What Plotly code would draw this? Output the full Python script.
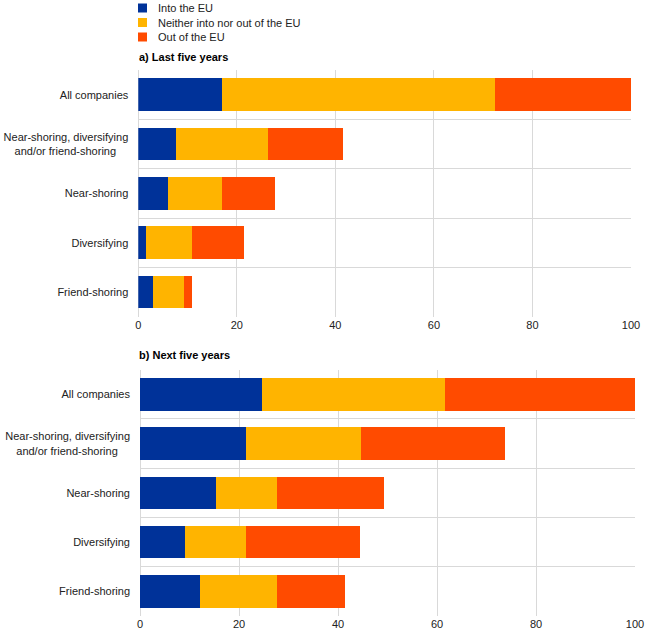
import plotly.graph_objects as go

categories = [
    "All companies",
    "Near-shoring, diversifying<br>and/or friend-shoring\u00a0\u00a0\u00a0\u00a0",
    "Near-shoring",
    "Diversifying",
    "Friend-shoring",
]
series_names = ["Into the EU", "Neither into nor out of the EU", "Out of the EU"]
colors = ["#003299", "#FFB400", "#FF4B00"]

# a) Last five years
last_into = [16.9, 7.6, 6.1, 1.5, 3.0]
last_neither = [55.5, 18.7, 10.9, 9.3, 6.3]
last_out = [27.6, 15.2, 10.7, 10.7, 1.5]

# b) Next five years
next_into = [24.6, 21.4, 15.3, 9.1, 12.2]
next_neither = [37.0, 23.2, 12.4, 12.4, 15.5]
next_out = [38.4, 29.2, 21.5, 23.0, 13.8]

x_ticks = [0, 20, 40, 60, 80, 100]
panel_titles = ["a) Last five years", "b) Next five years"]

W, H = 660, 641
FONT = "Liberation Sans, Arial, sans-serif"
TEXT = "#222222"
GRID = "#d9d9d9"

fig = go.Figure()

panels = [
    ([last_into, last_neither, last_out], "x", "y"),
    ([next_into, next_neither, next_out], "x2", "y2"),
]
for vals, xa, ya in panels:
    for name, col, v in zip(series_names, colors, vals):
        fig.add_trace(go.Bar(
            y=categories, x=v, name=name, orientation="h",
            marker=dict(color=col, line=dict(width=0)),
            xaxis=xa, yaxis=ya, showlegend=False,
            hoverinfo="x+name",
        ))

def px_x(p):
    return p / W

def px_y(p):
    return (H - p) / H

xaxis_common = dict(
    range=[0, 100], tickvals=x_ticks, showgrid=True, gridcolor=GRID, gridwidth=1,
    zeroline=True, zerolinecolor=GRID, zerolinewidth=1, showline=False,
    ticks="", tickfont=dict(family=FONT, size=11, color=TEXT), automargin=False,
    fixedrange=True,
)
yaxis_common = dict(
    type="category", categoryorder="array", categoryarray=categories,
    autorange=False, range=[len(categories) - 0.5, -0.5],
    tickson="boundaries", showgrid=True, gridcolor=GRID, gridwidth=1,
    ticks="", ticklabelstandoff=9,
    tickfont=dict(family=FONT, size=11, color=TEXT), automargin=False,
    showline=False, zeroline=False, fixedrange=True,
)

# legend (drawn as key squares + labels, stacked tightly as in the reference)
shapes = []
annotations = []
legend_rows = [8, 22.5, 37]
for name, col, yc in zip(series_names, colors, legend_rows):
    shapes.append(dict(
        type="rect", xref="paper", yref="paper",
        x0=px_x(138), x1=px_x(147), y0=px_y(yc + 4.5), y1=px_y(yc - 4.5),
        fillcolor=col, line=dict(width=0),
    ))
    annotations.append(dict(
        text=name, x=px_x(156), y=px_y(yc), xref="paper", yref="paper",
        xanchor="left", yanchor="middle", showarrow=False,
        font=dict(family=FONT, size=11, color=TEXT),
    ))

annotations += [
    dict(text="<b>" + panel_titles[0] + "</b>", x=px_x(137), y=px_y(57),
         xref="paper", yref="paper", xanchor="left", yanchor="middle",
         showarrow=False, font=dict(family=FONT, size=11, color="#000000")),
    dict(text="<b>" + panel_titles[1] + "</b>", x=px_x(137), y=px_y(355),
         xref="paper", yref="paper", xanchor="left", yanchor="middle",
         showarrow=False, font=dict(family=FONT, size=11, color="#000000")),
]

fig.update_layout(
    width=W, height=H,
    margin=dict(l=0, r=0, t=0, b=0),
    paper_bgcolor="white", plot_bgcolor="white",
    barmode="stack", bargap=0.34,
    font=dict(family=FONT, size=11, color=TEXT),
    showlegend=False,
    xaxis=dict(domain=[px_x(138.3), px_x(631)], anchor="y", **xaxis_common),
    yaxis=dict(domain=[px_y(316.7), px_y(70)], anchor="x", **yaxis_common),
    xaxis2=dict(domain=[px_x(140), px_x(635)], anchor="y2", **xaxis_common),
    yaxis2=dict(domain=[px_y(616), px_y(369.7)], anchor="x2", **yaxis_common),
    shapes=shapes,
    annotations=annotations,
)

fig.write_html("out.html")
